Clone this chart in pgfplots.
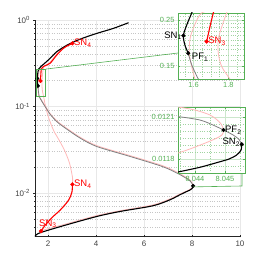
\documentclass[border=0pt]{standalone}
\usepackage{pgfplots}
\pgfplotsset{compat=1.18}
\usepackage{fontspec}
\setmainfont{Liberation Sans}
\definecolor{pk}{rgb}{1,0.72,0.72}
\definecolor{gy}{rgb}{0.5,0.5,0.5}
\definecolor{gr}{rgb}{0.33,0.69,0.33}
\definecolor{ax}{rgb}{0.15,0.15,0.15}
\definecolor{tl}{rgb}{0.25,0.25,0.25}
\newcommand{\lab}{\fontsize{9.5}{11}\selectfont}
\pgfplotsset{
  every axis/.append style={
    scale only axis, anchor=south west, tick align=inside,
    /pgf/number format/assume math mode=true, clip mode=individual,
  },
  blk/.style={black, line width=1.1bp},
  rd/.style={red, line width=1.1bp},
  pkl/.style={pk, line width=0.8bp},
  gyl/.style={gy, line width=0.8bp},
  bdot/.style={only marks, mark=*, mark size=1.9bp, mark options={black, fill=black}},
  rdot/.style={only marks, mark=*, mark size=1.9bp, mark options={red, fill=red}},
  inset/.style={
    axis background/.style={fill=white},
    axis line style={gr, line width=0.6bp}, tick style={gr, line width=0.5bp},
    ticklabel style={gr, font=\fontsize{7.5}{9}\selectfont},
    grid=both, major grid style={gr!30, line width=0.4bp},
    minor grid style={gr!55, dotted, line width=0.4bp},
    major tick length=2bp, minor tick length=0bp,
  },
}
\begin{document}
\begin{tikzpicture}[x=1bp,y=1bp]
\useasboundingbox (0,0) rectangle (266,266);
\begin{axis}[
  at={(35bp,30bp)}, width=205bp, height=216bp,
  xmin=1.45, xmax=10, ymode=log, ymin=0.00316, ymax=1,
  axis lines=left, axis line style={-, ax, line width=0.5bp},
  xtick={2,4,6,8,10},
  ytick={0.01,0.1,1},
  yticklabels={10\textsuperscript{-2},10\textsuperscript{-1},10\textsuperscript{0}},
  minor ytick={0.004,0.005,0.006,0.007,0.008,0.009,0.02,0.03,0.04,0.05,0.06,0.07,0.08,0.09,0.2,0.3,0.4,0.5,0.6,0.7,0.8,0.9},
  grid=both,
  major grid style={gray!18, line width=0.5bp},
  minor grid style={gray!45, dotted, line width=0.5bp},
  tick style={ax, line width=0.5bp},
  major tick length=3bp, minor tick length=1.8bp,
  ticklabel style={tl, font=\fontsize{8}{9}\selectfont},
]
% asymmetric branch (unstable part, light red)
\addplot[pkl, smooth] coordinates {
 (3.01,0.537) (2.9,0.535) (2.64,0.485) (2.36,0.405) (2.08,0.325) (1.90,0.297) (1.75,0.281) (1.646,0.27)
 (1.598,0.228) (1.579,0.202) (1.575,0.173) (1.589,0.149) (1.608,0.13) (1.70,0.121) (1.80,0.109)
 (1.95,0.094) (2.08,0.0825) (2.35,0.0685) (2.64,0.0593) (3.33,0.044) (4.03,0.0351) (5.42,0.0269)
 (6.79,0.0205) (7.5,0.0166) (7.92,0.0140) (8.0,0.0130) (8.045,0.0121) (8.0,0.0114) (7.9,0.0109)
 (7.78,0.0105) (7.5,0.0097) (7.08,0.0085) (6.375,0.00725) (5.0,0.0062) (4.03,0.00545)
 (2.64,0.00428) (2.1,0.0039) (1.8,0.0037) (1.70,0.0036)};
\addplot[pkl, smooth] coordinates {
 (1.83,0.29) (1.79,0.27) (1.762,0.232) (1.742,0.202) (1.742,0.173) (1.762,0.149) (1.809,0.13)
 (1.84,0.117) (1.89,0.10) (1.98,0.08) (2.1,0.064) (2.25,0.051) (2.45,0.041) (2.68,0.031)
 (2.88,0.0225) (2.98,0.017) (3.02,0.0145) (3.01,0.0125)};
% symmetric branch, unstable (gray)
\addplot[gyl, smooth] coordinates {
 (1.569,0.173) (1.589,0.152) (1.627,0.13) (1.70,0.119) (1.80,0.107) (1.95,0.092) (2.08,0.081)
 (2.35,0.067) (2.64,0.058) (3.33,0.043) (4.03,0.0343) (5.42,0.0263) (6.79,0.0200) (7.5,0.0162)
 (7.92,0.0137) (8.0,0.0128) (8.045,0.0120)};
% symmetric branch, stable (black)
\addplot[blk, smooth] coordinates {
 (5.35,0.93) (4.72,0.80) (4.03,0.70) (3.33,0.60) (2.78,0.51) (2.36,0.43) (2.08,0.36) (1.85,0.315)
 (1.70,0.29) (1.60,0.27) (1.56,0.236) (1.541,0.21) (1.55,0.189) (1.569,0.173)};
\addplot[blk, smooth] coordinates {
 (8.0455,0.0119) (8.0,0.0112) (7.9,0.0107) (7.78,0.01035) (7.5,0.0095) (7.08,0.0083)
 (6.375,0.00708) (5.0,0.00608) (4.03,0.00532) (2.64,0.00416) (1.67,0.00345) (1.46,0.00318) (1.40,0.0031)};
% asymmetric branch, stable (red)
\addplot[rd, smooth] coordinates {
 (1.675,0.197) (1.694,0.232) (1.713,0.27) (1.80,0.29) (2.08,0.316) (2.36,0.394) (2.64,0.471)
 (2.85,0.51) (3.01,0.537)};
\addplot[rd, smooth] coordinates {
 (3.01,0.0125) (2.99,0.0102) (2.85,0.0082) (2.5,0.0063) (2.2,0.0053) (1.9,0.0043) (1.70,0.0036)};
\addplot[bdot] coordinates {(1.541,0.21) (1.569,0.173) (8.045,0.0120)};
\addplot[rdot] coordinates {(1.675,0.197) (3.01,0.537) (3.01,0.0125) (1.70,0.0036)};
\node[red, anchor=west, font=\lab, inner sep=1.5bp] at (axis cs:3.01,0.537) {SN\textsubscript{4}};
\node[red, anchor=west, font=\lab, inner sep=1.5bp] at (axis cs:3.01,0.0125) {SN\textsubscript{4}};
\node[red, anchor=south west, font=\lab, inner sep=1bp, xshift=-3bp, yshift=2bp] at (axis cs:1.70,0.0036) {SN\textsubscript{3}};
\draw[gr, line width=0.6bp] (axis cs:1.51,0.13) rectangle (axis cs:1.89,0.27);
\coordinate (c1) at (axis cs:1.89,0.27);
\coordinate (c2) at (axis cs:8.0457,0.0117);
\end{axis}
\draw[gr, line width=0.6bp] (c1) -- (178,213);
\draw[gr, line width=0.6bp] (c2) -- (242,80) -- (242,93);
% inset 1
\begin{axis}[inset,
  at={(178bp,187bp)}, width=66bp, height=66bp,
  xmin=1.51, xmax=1.89, ymode=log, ymin=0.13, ymax=0.27,
  xtick={1.6,1.8}, xticklabels={1.6,1.8},
  minor xtick={1.55,1.65,1.7,1.75,1.85},
  ytick={0.15,0.25}, yticklabels={0.15,0.25},
  minor ytick={0.14,0.16,0.17,0.18,0.19,0.2,0.21,0.22,0.23,0.24,0.26},
]
\addplot[pkl, smooth] coordinates {(1.75,0.283) (1.646,0.27) (1.598,0.228) (1.579,0.202) (1.575,0.173) (1.589,0.149) (1.608,0.13) (1.62,0.125)};
\addplot[pkl, smooth] coordinates {(1.80,0.285) (1.79,0.27) (1.762,0.232) (1.742,0.202) (1.742,0.173) (1.762,0.149) (1.809,0.13) (1.83,0.123)};
\addplot[gyl, smooth] coordinates {(1.569,0.173) (1.589,0.152) (1.627,0.13) (1.65,0.125)};
\addplot[blk, smooth] coordinates {(1.60,0.285) (1.589,0.27) (1.56,0.236) (1.541,0.21) (1.55,0.189) (1.569,0.173)};
\addplot[rd, smooth] coordinates {(1.675,0.197) (1.694,0.232) (1.713,0.27) (1.72,0.28)};
\addplot[bdot] coordinates {(1.541,0.21) (1.569,0.173)};
\addplot[rdot] coordinates {(1.675,0.197)};
\node[black, anchor=east, font=\lab, inner sep=1.5bp] at (axis cs:1.541,0.21) {SN\textsubscript{1}};
\node[black, anchor=west, font=\lab, inner sep=1.5bp, xshift=2bp, yshift=-4bp] at (axis cs:1.569,0.173) {PF\textsubscript{1}};
\node[red, anchor=west, font=\lab, inner sep=1.5bp] at (axis cs:1.675,0.197) {SN\textsubscript{3}};
\end{axis}
% inset 2: x is (value - 8.04) * 1000, y is value * 10000
\begin{axis}[inset,
  at={(178bp,93bp)}, width=67bp, height=66bp,
  xmin=3.43, xmax=5.67, ymin=117.0, ymax=121.7,
  xtick={4,5}, xticklabels={8.044,8.045},
  minor xtick={3.5,4.5,5.5},
  ytick={118,121}, yticklabels={0.0118,0.0121},
  minor ytick={117.5,118.5,119,119.5,120,120.5,121.5},
]
\addplot[pkl, smooth] coordinates {
 (3.43,121.7) (3.83,121.56) (4.17,121.38) (4.50,121.13) (4.70,120.85) (4.87,120.49) (4.95,120.06)
 (4.90,119.71) (4.70,119.46) (4.43,119.21) (4.17,118.99) (3.83,118.71) (3.43,118.42)};
\addplot[gyl, smooth] coordinates {
 (3.43,121.02) (4.17,120.77) (4.67,120.35) (4.95,120.06) (5.27,119.71) (5.47,119.39) (5.56,119.04)};
\addplot[blk, smooth] coordinates {
 (5.56,119.04) (5.54,118.64) (5.39,118.28) (5.14,118.0) (4.83,117.80) (4.50,117.6) (4.17,117.41)
 (3.83,117.25) (3.43,117.07)};
\addplot[bdot] coordinates {(4.95,120.06) (5.56,119.04)};
\node[black, anchor=west, font=\lab, inner sep=1.5bp] at (axis cs:4.95,120.06) {PF\textsubscript{2}};
\node[black, anchor=east, font=\lab, inner sep=1.5bp, yshift=2bp] at (axis cs:5.56,119.04) {SN\textsubscript{2}};
\end{axis}
\end{tikzpicture}
\end{document}
